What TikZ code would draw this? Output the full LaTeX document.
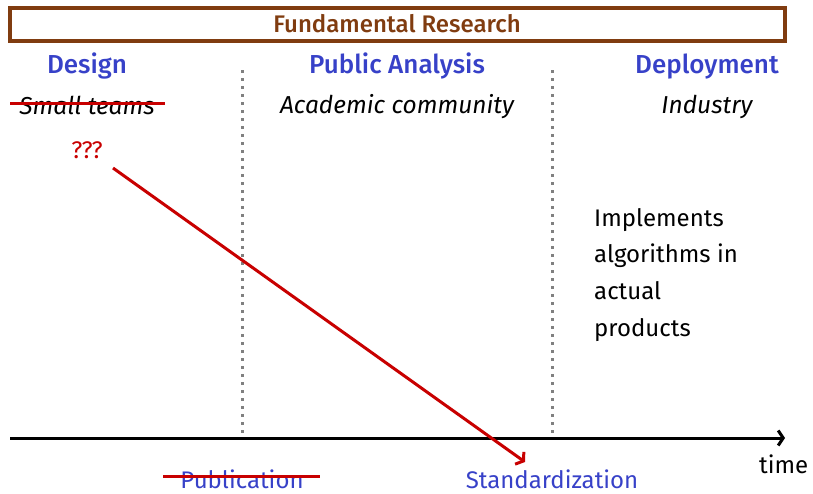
\documentclass[tikz,border=0pt]{standalone}
\usepackage{fontspec}
\setmainfont{Fira Sans}[BoldFont={Fira Sans Medium}]
\usetikzlibrary{arrows.meta}
\definecolor{frbrown}{RGB}{128,60,16}
\definecolor{hblue}{RGB}{55,65,200}
\definecolor{sred}{RGB}{200,0,0}
\tikzset{
  head/.style={font=\fontsize{26}{29}\selectfont\bfseries, text=hblue, anchor=base, inner sep=0},
  role/.style={font=\fontsize{24.5}{28}\selectfont\itshape, anchor=base, inner sep=0},
  lbl/.style={font=\fontsize{24}{27}\selectfont, anchor=base, inner sep=0},
  sep/.style={gray, line width=3pt, dash pattern=on 3pt off 5pt},
  strike/.style={sred, line width=3pt},
}
\begin{document}
\begin{tikzpicture}[x=1pt,y=-1pt]
\useasboundingbox (0,0) rectangle (813,493);
\node[draw=frbrown, line width=3.5pt, minimum width=775pt, minimum height=33pt, inner sep=0] (fr) at (397.5,24.5) {};
\node[font=\fontsize{24}{27}\selectfont\bfseries, text=frbrown, anchor=base, inner sep=0] (frt) at (397,32) {Fundamental Research};
\node[head] (design) at (87,73) {Design};
\node[head] (public) at (397,73) {Public Analysis};
\node[head] (deploy) at (707,73) {Deployment};
\node[role] (small) at (87,114) {Small teams};
\node[role] (acad) at (397,113) {Academic community};
\node[role] (ind) at (707,113) {Industry};
\draw[strike] ([xshift=-9pt,yshift=1pt]small.west) -- ([xshift=10pt,yshift=1pt]small.east);
\node[lbl, text=sred] (qqq) at (87,158) {???};
\coordinate (top1) at (242,70);
\coordinate (bot1) at (242,438);
\coordinate (top2) at (552,70);
\coordinate (bot2) at (552,438);
\draw[sep] (top1) -- (bot1);
\draw[sep] (top2) -- (bot2);
\coordinate (axs) at (10,438);
\coordinate (axe) at (785,438);
\draw[line width=3pt, -{Straight Barb[length=5pt,width=15pt]}] (axs) -- (axe);
\node[lbl, anchor=base west] (time) at (759,473) {time};
\coordinate (as) at (113,168);
\coordinate (ae) at (525,462);
\draw[sred, line width=3pt, -{Straight Barb[length=5pt,width=15pt]}] (as) -- (ae);
\node[lbl, text=hblue] (pub) at (242,488) {Publication};
\draw[strike] ([xshift=-17pt,yshift=2pt]pub.west) -- ([xshift=16pt,yshift=2pt]pub.east);
\node[lbl, text=hblue] (std) at (552,488) {Standardization};
\node[font=\fontsize{24}{36.7}\selectfont, anchor=north west, align=left, inner sep=0] (impl) at (594,208) {Implements\\algorithms in\\actual\\products};
\end{tikzpicture}
\end{document}
